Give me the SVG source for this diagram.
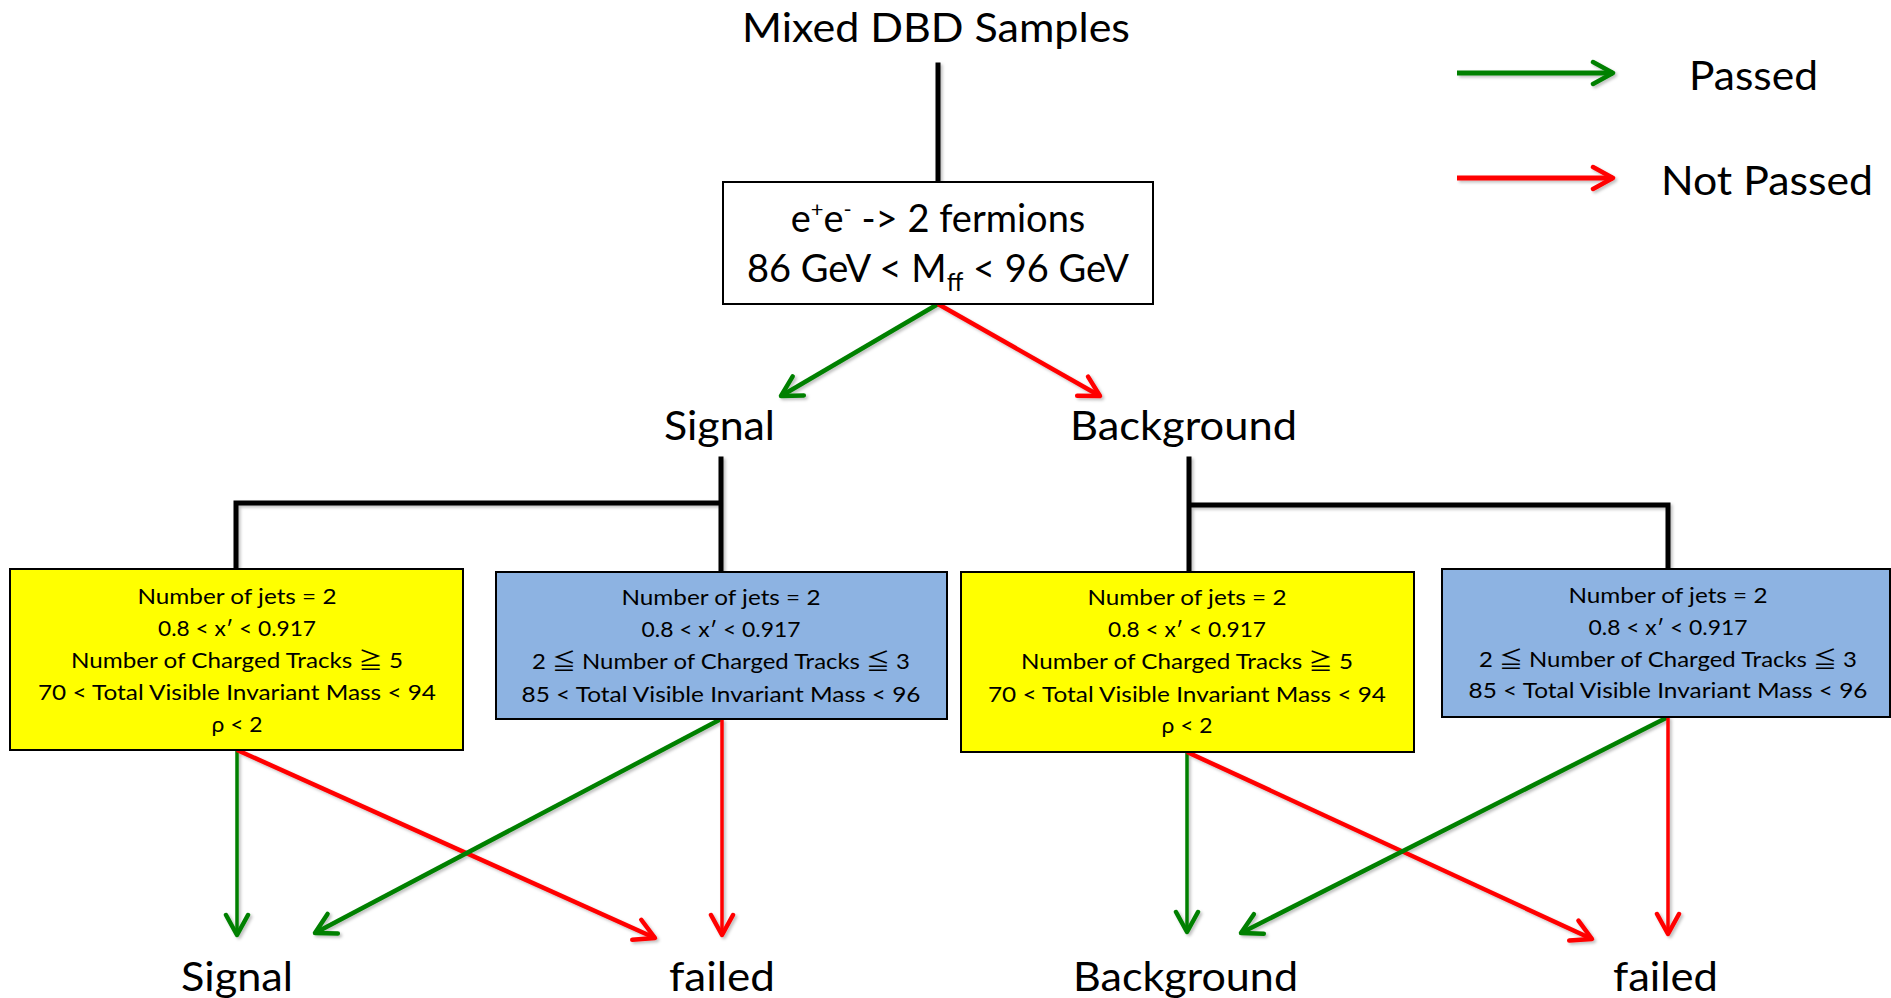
<svg xmlns="http://www.w3.org/2000/svg" width="1891" height="998" viewBox="0 0 1891 998">
  <style>
    text { font-family: Lato, "Noto Sans CJK JP", sans-serif; fill: #000; }
    .big { font-size: 41px; }
    .mid { font-size: 38px; }
    .small { font-size: 22px; text-anchor: middle; }
    .box { stroke: #000; stroke-width: 2; }
    .yellow { fill: #FFFF00; }
    .blue { fill: #8DB3E2; }
    .white { fill: #FFFFFF; }
    .tree { stroke: #000; stroke-width: 5; fill: none; stroke-linecap: square; }
    .pass { stroke: #008000; fill: none; }
    .fail { stroke: #FF0000; fill: none; }
  </style>
  <defs>
    <filter id="shadow" x="-10%" y="-10%" width="130%" height="130%">
      <feDropShadow dx="2" dy="2" stdDeviation="1.5" flood-color="#000" flood-opacity="0.25"/>
    </filter>
    <marker id="headG" markerUnits="userSpaceOnUse" viewBox="-24 -14 30 28" refX="0" refY="0" markerWidth="30" markerHeight="28" orient="auto">
      <path d="M -20 -11 L 0 0 L -20 11" fill="none" stroke="#008000" stroke-width="4.5" stroke-linecap="round" stroke-linejoin="round"/>
    </marker>
    <marker id="headR" markerUnits="userSpaceOnUse" viewBox="-24 -14 30 28" refX="0" refY="0" markerWidth="30" markerHeight="28" orient="auto">
      <path d="M -20 -11 L 0 0 L -20 11" fill="none" stroke="#FF0000" stroke-width="4.5" stroke-linecap="round" stroke-linejoin="round"/>
    </marker>
  </defs>

  <rect width="1891" height="998" fill="#FFFFFF"/>

  <!-- connectors -->
  <g id="connectors" filter="url(#shadow)">
    <line class="tree" x1="938" y1="65" x2="938" y2="182"/>
    <path class="tree" d="M 721 459 V 570 M 721 503 H 236 V 570"/>
    <path class="tree" d="M 1189 459 V 572 M 1189 505 H 1668 V 569"/>

    <line class="pass" stroke-width="4.5" x1="938" y1="304" x2="781" y2="396" marker-end="url(#headG)"/>
    <line class="fail" stroke-width="4.5" x1="938" y1="304" x2="1100" y2="396" marker-end="url(#headR)"/>

    <line class="pass" stroke-width="3.5" x1="237" y1="750" x2="237" y2="935" marker-end="url(#headG)"/>
    <line class="fail" stroke-width="4.5" x1="237" y1="750" x2="655" y2="938" marker-end="url(#headR)"/>
    <line class="pass" stroke-width="4.5" x1="721" y1="719" x2="315" y2="933" marker-end="url(#headG)"/>
    <line class="fail" stroke-width="3.5" x1="722" y1="719" x2="722" y2="935" marker-end="url(#headR)"/>

    <line class="pass" stroke-width="3.5" x1="1187" y1="752" x2="1187" y2="932" marker-end="url(#headG)"/>
    <line class="fail" stroke-width="4.5" x1="1187" y1="752" x2="1592" y2="939" marker-end="url(#headR)"/>
    <line class="pass" stroke-width="4.5" x1="1668" y1="717" x2="1241" y2="933" marker-end="url(#headG)"/>
    <line class="fail" stroke-width="3.5" x1="1668" y1="717" x2="1668" y2="934" marker-end="url(#headR)"/>

    <line class="pass" stroke-width="5" x1="1457" y1="73" x2="1613" y2="73" marker-end="url(#headG)"/>
    <line class="fail" stroke-width="5" x1="1457" y1="178" x2="1613" y2="178" marker-end="url(#headR)"/>
  </g>

  <!-- legend -->
  <g id="legend">
    <text class="big" x="1689" y="90" textLength="129" lengthAdjust="spacingAndGlyphs">Passed</text>
    <text class="big" x="1661" y="195" textLength="212" lengthAdjust="spacingAndGlyphs">Not Passed</text>
  </g>

  <g id="root">
    <text class="big" x="742" y="42" textLength="388" lengthAdjust="spacingAndGlyphs">Mixed DBD Samples</text>
  </g>

  <g id="preselection">
    <rect class="box white" x="723" y="182" width="430" height="122"/>
    <text class="mid" x="938" y="232" text-anchor="middle">e<tspan font-size="22" dy="-15">+</tspan><tspan dy="15">e</tspan><tspan font-size="22" dy="-15">-</tspan><tspan dy="15"> -&gt; 2 fermions</tspan></text>
    <text class="mid" x="938" y="282" text-anchor="middle">86 GeV &lt; M<tspan font-size="25" dy="9">ff</tspan><tspan dy="-9"> &lt; 96 GeV</tspan></text>
  </g>

  <g id="signal">
    <text class="big" x="664" y="440" textLength="111" lengthAdjust="spacingAndGlyphs">Signal</text>
  </g>
  <g id="background">
    <text class="big" x="1070" y="440" textLength="227" lengthAdjust="spacingAndGlyphs">Background</text>
  </g>

  <g id="signal-cut-a">
    <rect class="box yellow" x="10" y="569" width="453" height="181"/>
    <text class="small" x="237" y="604" textLength="199" lengthAdjust="spacingAndGlyphs">Number of jets = 2</text>
    <text class="small" x="237" y="636" textLength="158" lengthAdjust="spacingAndGlyphs">0.8 &lt; x′ &lt; 0.917</text>
    <text class="small" x="237" y="668" textLength="332" lengthAdjust="spacingAndGlyphs">Number of Charged Tracks ≧ 5</text>
    <text class="small" x="237" y="700" textLength="398" lengthAdjust="spacingAndGlyphs">70 &lt; Total Visible Invariant Mass &lt; 94</text>
    <text class="small" x="237" y="732" textLength="51" lengthAdjust="spacingAndGlyphs">ρ &lt; 2</text>
  </g>

  <g id="signal-cut-b">
    <rect class="box blue" x="496" y="572" width="451" height="147"/>
    <text class="small" x="721" y="605" textLength="199" lengthAdjust="spacingAndGlyphs">Number of jets = 2</text>
    <text class="small" x="721" y="637" textLength="159" lengthAdjust="spacingAndGlyphs">0.8 &lt; x′ &lt; 0.917</text>
    <text class="small" x="721" y="669" textLength="378" lengthAdjust="spacingAndGlyphs">2 ≦ Number of Charged Tracks ≦ 3</text>
    <text class="small" x="721" y="702" textLength="399" lengthAdjust="spacingAndGlyphs">85 &lt; Total Visible Invariant Mass &lt; 96</text>
  </g>

  <g id="background-cut-a">
    <rect class="box yellow" x="961" y="572" width="453" height="180"/>
    <text class="small" x="1187" y="605" textLength="199" lengthAdjust="spacingAndGlyphs">Number of jets = 2</text>
    <text class="small" x="1187" y="637" textLength="158" lengthAdjust="spacingAndGlyphs">0.8 &lt; x′ &lt; 0.917</text>
    <text class="small" x="1187" y="669" textLength="332" lengthAdjust="spacingAndGlyphs">Number of Charged Tracks ≧ 5</text>
    <text class="small" x="1187" y="702" textLength="398" lengthAdjust="spacingAndGlyphs">70 &lt; Total Visible Invariant Mass &lt; 94</text>
    <text class="small" x="1187" y="733" textLength="51" lengthAdjust="spacingAndGlyphs">ρ &lt; 2</text>
  </g>

  <g id="background-cut-b">
    <rect class="box blue" x="1442" y="569" width="448" height="148"/>
    <text class="small" x="1668" y="603" textLength="199" lengthAdjust="spacingAndGlyphs">Number of jets = 2</text>
    <text class="small" x="1668" y="635" textLength="159" lengthAdjust="spacingAndGlyphs">0.8 &lt; x′ &lt; 0.917</text>
    <text class="small" x="1668" y="667" textLength="378" lengthAdjust="spacingAndGlyphs">2 ≦ Number of Charged Tracks ≦ 3</text>
    <text class="small" x="1668" y="698" textLength="399" lengthAdjust="spacingAndGlyphs">85 &lt; Total Visible Invariant Mass &lt; 96</text>
  </g>

  <g id="signal-out">
    <text class="big" x="181" y="991" textLength="112" lengthAdjust="spacingAndGlyphs">Signal</text>
  </g>
  <g id="signal-failed">
    <text class="big" x="669" y="991" textLength="106" lengthAdjust="spacingAndGlyphs">failed</text>
  </g>
  <g id="background-out">
    <text class="big" x="1073" y="991" textLength="225" lengthAdjust="spacingAndGlyphs">Background</text>
  </g>
  <g id="background-failed">
    <text class="big" x="1613" y="991" textLength="105" lengthAdjust="spacingAndGlyphs">failed</text>
  </g>
</svg>
